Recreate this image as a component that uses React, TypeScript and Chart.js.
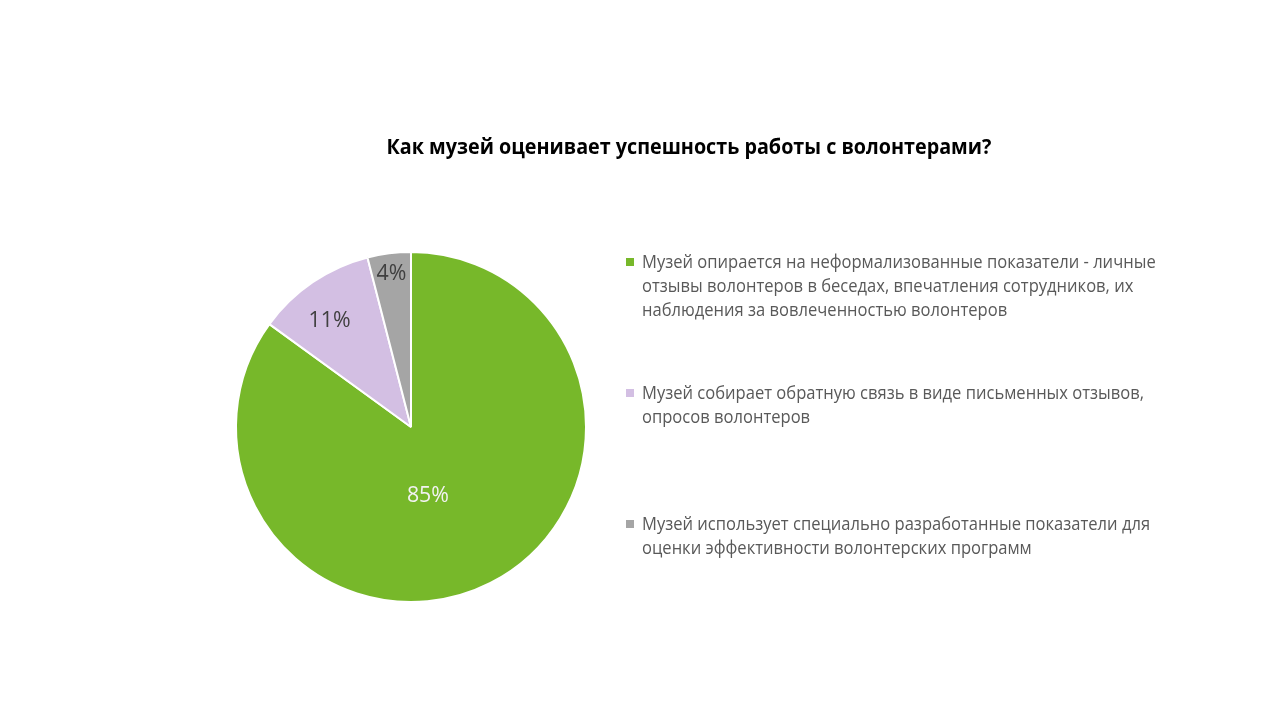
import React, { useEffect, useRef } from "react";
import { Chart, registerables } from "chart.js";

Chart.register(...registerables);

const titleText = "Как музей оценивает успешность работы с волонтерами?";
const categories: string[][] = [
  [
    "Музей опирается на неформализованные показатели - личные",
    "отзывы волонтеров в беседах, впечатления сотрудников, их",
    "наблюдения за вовлеченностью волонтеров",
  ],
  [
    "Музей собирает обратную связь в виде письменных отзывов,",
    "опросов волонтеров",
  ],
  [
    "Музей использует специально разработанные показатели для",
    "оценки эффективности волонтерских программ",
  ],
];
const values = [85, 11, 4];
const valueLabels = ["85%", "11%", "4%"];
const colors = ["#77b82a", "#d3bfe3", "#a5a5a5"];
const labelColors = ["#f2f2f2", "#404040", "#404040"];
const labelRadiusFractions = [0.4, 0.77, 0.89];
const labelAngleShiftDeg = [13, -3, 0];

const FONT = "'Open Sans', 'Noto Sans', sans-serif";

const overlayPlugin = {
  id: "overlay",
  afterDatasetsDraw(chart: any) {
    const ctx = chart.ctx as CanvasRenderingContext2D;
    const meta = chart.getDatasetMeta(0);
    ctx.save();
    // data labels
    meta.data.forEach((arc: any, i: number) => {
      const mid = (arc.startAngle + arc.endAngle) / 2 + (labelAngleShiftDeg[i] * Math.PI) / 180;
      const r = arc.outerRadius * labelRadiusFractions[i];
      const x = arc.x + Math.cos(mid) * r;
      const y = arc.y + Math.sin(mid) * r;
      ctx.font = `22px ${FONT}`;
      ctx.fillStyle = labelColors[i];
      ctx.textAlign = "center";
      ctx.textBaseline = "middle";
      const w = ctx.measureText(valueLabels[i]).width;
      ctx.fillText(valueLabels[i], x, y + 1, w * 0.97);
    });
    // title
    ctx.font = `bold 21px ${FONT}`;
    ctx.fillStyle = "#000000";
    ctx.textAlign = "center";
    ctx.textBaseline = "middle";
    const tw = ctx.measureText(titleText).width;
    ctx.fillText(titleText, 689, 148, tw * 0.94);
    // legend
    const labels = chart.data.labels as string[][];
    const bg = chart.data.datasets[0].backgroundColor as string[];
    ctx.font = `18px ${FONT}`;
    ctx.textAlign = "left";
    labels.forEach((lines, i) => {
      const top = 262 + i * 131;
      ctx.fillStyle = bg[i];
      ctx.fillRect(626, top - 4, 8, 8);
      ctx.fillStyle = "#595959";
      lines.forEach((ln, j) => {
        const lw = ctx.measureText(ln).width;
        ctx.fillText(ln, 642, top + 1 + j * 24, lw * 0.92);
      });
    });
    ctx.restore();
  },
};

export default function App() {
  const ref = useRef<HTMLCanvasElement | null>(null);
  useEffect(() => {
    if (!ref.current) return;
    const chart = new Chart(ref.current, {
      type: "pie",
      data: {
        labels: categories as any,
        datasets: [
          {
            data: values,
            backgroundColor: colors,
            borderColor: "#ffffff",
            borderWidth: 2,
          },
        ],
      },
      options: {
        responsive: false,
        animation: false,
        layout: { padding: { left: 235, right: 693, top: 251, bottom: 117 } },
        plugins: {
          legend: { display: false },
          tooltip: { enabled: false },
          title: { display: false },
        },
      },
      plugins: [overlayPlugin],
    });
    return () => chart.destroy();
  }, []);
  return (
    <div style={{ position: "fixed", left: 0, top: 0, width: 1280, height: 720, background: "#ffffff" }}>
      <canvas ref={ref} width={1280} height={720} style={{ width: 1280, height: 720 }} />
    </div>
  );
}
